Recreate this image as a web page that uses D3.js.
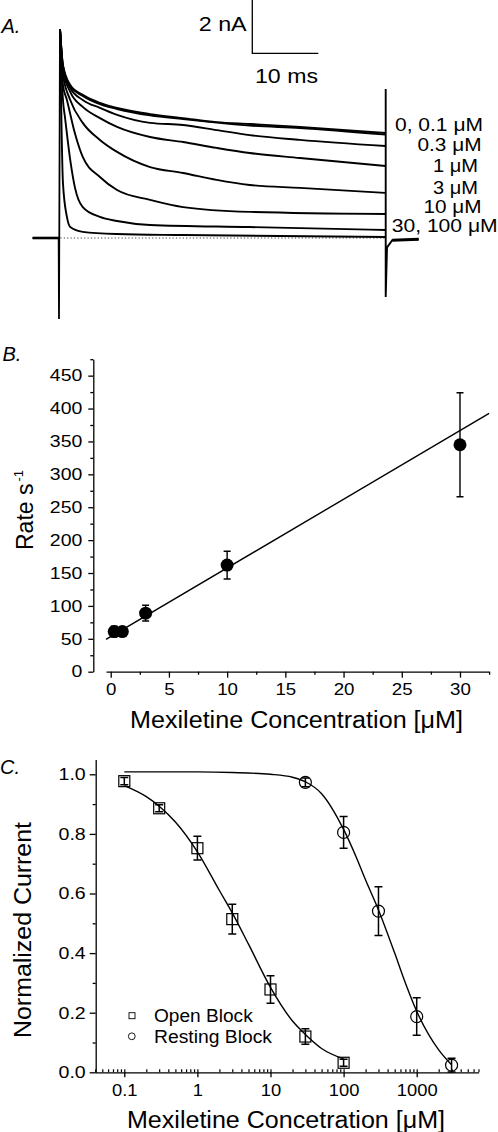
<!DOCTYPE html>
<html><head><meta charset="utf-8">
<script src="https://cdn.jsdelivr.net/npm/d3@7"></script>
<style>body{margin:0;background:#fff} svg{display:block}</style>
</head><body><svg id="c" width="498" height="1132"></svg>
<script>
// ---------------- DATA ----------------
// Panel A: current traces (time ms after step, current nA)
const tA_0   = [0.15, 0.6, 1.7, 3.6, 6.2, 8.8, 13.8, 18.8, 23.9, 28.9, 36.5, 49.5];
const iA_0   = [7.84, 6.49, 5.74, 5.37, 5.07, 4.88, 4.65, 4.50, 4.35, 4.28, 4.17, 3.94];
const tA_01  = [0.15, 0.6, 1.7, 3.6, 6.2, 8.8, 13.8, 18.8, 23.9, 28.9, 36.5, 49.5];
const iA_01  = [7.84, 6.45, 5.70, 5.33, 5.02, 4.84, 4.60, 4.46, 4.33, 4.22, 4.13, 3.88];
const tA_03  = [0.15, 0.6, 1.7, 3.6, 6.2, 8.8, 13.8, 18.8, 23.9, 28.9, 36.5, 49.5];
const iA_03  = [7.84, 6.42, 5.63, 5.18, 4.88, 4.62, 4.32, 4.24, 4.05, 3.86, 3.68, 3.45];
const tA_1   = [0.15, 0.6, 1.7, 3.6, 6.2, 8.8, 13.8, 18.8, 23.9, 28.9, 36.5, 49.5];
const iA_1   = [7.84, 6.30, 5.48, 4.92, 4.50, 4.17, 3.79, 3.60, 3.38, 3.19, 3.00, 2.70];
const tA_3   = [0.15, 0.6, 1.7, 3.6, 6.2, 8.8, 13.8, 18.8, 23.9, 28.9, 36.5, 49.5];
const iA_3   = [7.84, 6.12, 5.18, 4.32, 3.68, 3.23, 2.66, 2.44, 2.18, 1.99, 1.88, 1.69];
const tA_10  = [0.15, 0.6, 1.2, 2.4, 3.6, 6.2, 8.8, 13.8, 18.8, 28.9, 49.5];
const iA_10  = [7.84, 5.74, 5.18, 3.94, 3.04, 2.29, 1.80, 1.43, 1.16, 0.98, 0.90];
const tA_30  = [0.15, 0.6, 0.9, 1.7, 2.4, 3.6, 6.2, 8.8, 13.8, 28.9, 49.5];
const iA_30  = [7.84, 5.18, 4.54, 2.93, 1.91, 1.16, 0.79, 0.64, 0.49, 0.41, 0.30];
const tA_100 = [0.15, 0.6, 1.2, 1.7, 3.6, 8.8, 18.8, 49.5];
const iA_100 = [7.84, 2.06, 0.79, 0.41, 0.23, 0.15, 0.11, 0.04];
const stepT = [-4, -0.05, 0.0, 0.15];
const stepI = [0, 0, -3.04, 7.84];
const tailT = [49.5, 49.5, 49.7, 50.5, 54.5];
const tailI = [5.59, -2.21, -0.35, -0.08, -0.05];
const concLabels = ["0, 0.1 \u03BCM", "0.3 \u03BCM", "1 \u03BCM", "3 \u03BCM", "10 \u03BCM", "30, 100 \u03BCM"];
const scaleBarMs = 10, scaleBarNA = 2;

// Panel B: rate vs concentration
const rateConc = [0.3, 1, 3, 10, 30];
const rateVal  = [61, 61, 89, 162, 345];
const rateErr  = [8, 5, 12, 21, 79];
const rateFitX = [-0.4, 32.5];
const rateFitY = [49.1, 392.6];
const rateYTicks = [0, 50, 100, 150, 200, 250, 300, 350, 400, 450];
const rateXTicks = [0, 5, 10, 15, 20, 25, 30];

// Panel C: normalized current
const openConc = [0.1, 0.3, 1, 3, 10, 30, 100];
const openVal  = [0.977, 0.886, 0.752, 0.514, 0.278, 0.12, 0.032];
const openErr  = [0.012, 0.012, 0.04, 0.05, 0.046, 0.026, 0.012];
const restConc = [30, 100, 300, 1000, 3000];
const restVal  = [0.973, 0.805, 0.541, 0.187, 0.024];
const restErr  = [0.015, 0.053, 0.082, 0.063, 0.023];
const openFitX = [0.1, 0.2, 0.3, 0.5, 1, 2, 3, 5, 10, 20, 30, 50, 100];
const openFitY = [0.962, 0.925, 0.893, 0.84, 0.74, 0.61, 0.535, 0.43, 0.285, 0.172, 0.127, 0.08, 0.045];
const restFitX = [0.1, 1, 3, 10, 20, 30, 50, 100, 150, 200, 300, 500, 700, 1000, 2000, 3000];
const restFitY = [1.008, 1.008, 1.006, 1.0, 0.99, 0.975, 0.935, 0.815, 0.72, 0.645, 0.545, 0.40, 0.30, 0.205, 0.075, 0.025];
const normYTicks = [0, 0.2, 0.4, 0.6, 0.8, 1.0];
const normXTicks = [0.1, 1, 10, 100, 1000];
const legendNames = ["Open Block", "Resting Block"];

// ---------------- DRAW ----------------
const FONT = '"Liberation Sans", Arial, Helvetica, sans-serif';
const svg = d3.select("#c");

function txt(g, str, x, y, o = {}) {
  const t = g.append("text").attr("x", x).attr("y", y)
    .attr("font-family", FONT).attr("font-size", o.size || 16)
    .attr("text-anchor", o.anchor || "start").attr("fill", "#000").text(str);
  if (o.italic) t.attr("font-style", "italic");
  if (o.len) t.attr("textLength", o.len).attr("lengthAdjust", "spacingAndGlyphs");
  return t;
}
function stretchTicks(g, f, size) {
  g.attr("font-family", FONT).attr("font-size", size);
  g.selectAll(".tick text").attr("fill", "#000").each(function () {
    const L = this.getComputedTextLength();
    if (L > 0) d3.select(this).attr("textLength", L * f).attr("lengthAdjust", "spacingAndGlyphs");
  });
  g.selectAll("line,path").attr("stroke", "#000").attr("stroke-width", 1.3);
}

// ===== Panel A =====
const gA = svg.append("g");
const xA = d3.scaleLinear().domain([-4, 55]).range([32.6, 422]);
const yA = d3.scaleLinear().domain([-3.5, 8]).range([238 + 3.5 * 26.65, 238 - 8 * 26.65]);
const zip = (a, b) => a.map((v, i) => [v, b[i]]);
const lineA = d3.line().x(d => xA(d[0])).y(d => yA(d[1])).curve(d3.curveMonotoneX);
const lineLin = d3.line().x(d => xA(d[0])).y(d => yA(d[1]));

// dotted zero line
gA.append("line").attr("x1", xA(0.2)).attr("x2", xA(49.5)).attr("y1", yA(0)).attr("y2", yA(0))
  .attr("stroke", "#444").attr("stroke-width", 1).attr("stroke-dasharray", "1.2,2.2");

const traces = [[tA_0, iA_0], [tA_01, iA_01], [tA_03, iA_03], [tA_1, iA_1], [tA_3, iA_3], [tA_10, iA_10], [tA_30, iA_30], [tA_100, iA_100]];
traces.forEach(([t, i]) => {
  gA.append("path").attr("d", lineA(zip(t, i))).attr("fill", "none")
    .attr("stroke", "#000").attr("stroke-width", 1.9).attr("stroke-linejoin", "round");
});
gA.append("path").attr("d", lineLin(zip(stepT, stepI))).attr("fill", "none").attr("stroke", "#000").attr("stroke-width", 1.8);
gA.append("path").attr("d", lineLin(zip(stepT.slice(0, 2), stepI.slice(0, 2)))).attr("fill", "none").attr("stroke", "#000").attr("stroke-width", 2.6);
gA.append("path").attr("d", lineLin(zip(tailT, tailI))).attr("fill", "none").attr("stroke", "#000").attr("stroke-width", 1.9);
gA.append("path").attr("d", lineLin(zip(tailT.slice(3), tailI.slice(3)))).attr("fill", "none").attr("stroke", "#000").attr("stroke-width", 3);

// scale bar
const sbx = 252.3, sby = 53.3;
const sbW = xA(scaleBarMs) - xA(0), sbH = yA(0) - yA(scaleBarNA);
gA.append("path").attr("d", `M${sbx},${sby - sbH}V${sby}H${sbx + sbW}`).attr("fill", "none").attr("stroke", "#000").attr("stroke-width", 1.3);
txt(gA, scaleBarNA + " nA", 246.7, 30.5, { size: 21, anchor: "end", len: 48 });
txt(gA, scaleBarMs + " ms", 255, 82.5, { size: 21, len: 63 });
txt(gA, "A.", 1.5, 33.3, { size: 20, italic: true });

// concentration labels (layout only)
const labRight = [483, 481.5, 478, 478, 481.5, 497.7];
const labBase = [130.7, 151, 171.7, 194, 212.7, 231.5];
const labLen = [88, 64, 45, 45, 58, 106];
concLabels.forEach((s, k) => txt(gA, s, labRight[k], labBase[k], { size: 18, anchor: "end", len: labLen[k] }));

// ===== Panel B =====
const gB = svg.append("g");
const xB = d3.scaleLinear().domain([-0.4, 32.5]).range([106.04, 489.1]);
const yB = d3.scaleLinear().domain([0, 475]).range([671.7, 359.2]);
const yBaxis = gB.append("g").attr("transform", "translate(93.3,0)")
  .call(d3.axisLeft(yB).tickValues(rateYTicks).tickSize(5).tickPadding(6).tickSizeOuter(0));
stretchTicks(yBaxis, 1.18, 16.5);
const yBmin = gB.append("g").attr("transform", "translate(93.3,0)")
  .call(d3.axisLeft(yB).tickValues(d3.range(25, 476, 50)).tickSize(3).tickFormat("").tickSizeOuter(0));
yBmin.select(".domain").remove(); yBmin.selectAll("line").attr("stroke", "#000").attr("stroke-width", 1.3);
const xBaxis = gB.append("g").attr("transform", "translate(0,671.7)")
  .call(d3.axisBottom(xB).tickValues(rateXTicks).tickSize(6).tickPadding(5).tickSizeOuter(0));
stretchTicks(xBaxis, 1.1, 17);
const xBmin = gB.append("g").attr("transform", "translate(0,671.7)")
  .call(d3.axisBottom(xB).tickValues(d3.range(2.5, 33, 5)).tickSize(3).tickFormat("").tickSizeOuter(0));
xBmin.select(".domain").remove(); xBmin.selectAll("line").attr("stroke", "#000").attr("stroke-width", 1.3);

gB.append("path").attr("d", d3.line().x(d => xB(d[0])).y(d => yB(d[1]))(zip(rateFitX, rateFitY)))
  .attr("fill", "none").attr("stroke", "#000").attr("stroke-width", 1.4);
rateConc.forEach((c, k) => {
  const x = xB(c), y1 = yB(rateVal[k] + rateErr[k]), y2 = yB(rateVal[k] - rateErr[k]);
  gB.append("path").attr("d", `M${x},${y1}V${y2}M${x - 3.5},${y1}H${x + 3.5}M${x - 3.5},${y2}H${x + 3.5}`)
    .attr("stroke", "#000").attr("stroke-width", 1.4).attr("fill", "none");
  gB.append("circle").attr("cx", x).attr("cy", yB(rateVal[k])).attr("r", 6.5).attr("fill", "#000");
});
txt(gB, "B.", 2.5, 361, { size: 20, italic: true });
txt(gB, "Mexiletine Concentration [\u03BCM]", 130, 728, { size: 23.5, len: 333 });
const rt = gB.append("text").attr("transform", "translate(33,550) rotate(-90)")
  .attr("font-family", FONT).attr("font-size", 23).attr("fill", "#000");
rt.append("tspan").text("Rate s");
rt.append("tspan").attr("dy", -10).attr("dx", 2).attr("font-size", 13).text("-1");

// ===== Panel C =====
const gC = svg.append("g");
const xC = d3.scaleLog().domain([0.04, 7000]).range([124.3 - Math.log10(0.1 / 0.04) * 73.1, 416.7 + Math.log10(7) * 73.1]);
const yC = d3.scaleLinear().domain([0, 1.05]).range([1072.3, 759.4]);
const yCaxis = gC.append("g").attr("transform", "translate(95.7,0)")
  .call(d3.axisLeft(yC).tickValues(normYTicks).tickFormat(d3.format(".1f")).tickSize(6).tickPadding(4).tickSizeOuter(0));
stretchTicks(yCaxis, 1.15, 17);
const yCmin = gC.append("g").attr("transform", "translate(95.7,0)")
  .call(d3.axisLeft(yC).tickValues(d3.range(0.1, 1.05, 0.2)).tickSize(3).tickFormat("").tickSizeOuter(0));
yCmin.select(".domain").remove(); yCmin.selectAll("line").attr("stroke", "#000").attr("stroke-width", 1.3);
const xCaxis = gC.append("g").attr("transform", "translate(0,1072.3)")
  .call(d3.axisBottom(xC).tickValues(normXTicks).tickFormat(d => String(d)).tickSize(5).tickPadding(7).tickSizeOuter(0));
stretchTicks(xCaxis, 1.08, 17);
const minorC = xC.ticks().filter(v => Math.abs(Math.log10(v) - Math.round(Math.log10(v))) > 1e-6);
const xCmin = gC.append("g").attr("transform", "translate(0,1072.3)")
  .call(d3.axisBottom(xC).tickValues(minorC.concat(normXTicks)).tickSize(-3).tickFormat("").tickSizeOuter(0));
xCmin.select(".domain").remove(); xCmin.selectAll("line").attr("stroke", "#000").attr("stroke-width", 1.2);

const lineC = d3.line().x(d => xC(d[0])).y(d => yC(d[1])).curve(d3.curveMonotoneX);
gC.append("path").attr("d", lineC(zip(openFitX, openFitY))).attr("fill", "none").attr("stroke", "#000").attr("stroke-width", 1.4);
gC.append("path").attr("d", lineC(zip(restFitX, restFitY))).attr("fill", "none").attr("stroke", "#000").attr("stroke-width", 1.4);

function errBars(conc, val, err) {
  conc.forEach((c, k) => {
    const x = xC(c), y1 = yC(val[k] + err[k]), y2 = yC(val[k] - err[k]);
    gC.append("path").attr("d", `M${x},${y1}V${y2}M${x - 4},${y1}H${x + 4}M${x - 4},${y2}H${x + 4}`)
      .attr("stroke", "#000").attr("stroke-width", 1.5).attr("fill", "none");
  });
}
errBars(openConc, openVal, openErr);
errBars(restConc, restVal, restErr);
openConc.forEach((c, k) => {
  gC.append("rect").attr("x", xC(c) - 5.5).attr("y", yC(openVal[k]) - 5.5).attr("width", 11).attr("height", 11)
    .attr("fill", "none").attr("stroke", "#000").attr("stroke-width", 1.2);
});
restConc.forEach((c, k) => {
  gC.append("circle").attr("cx", xC(c)).attr("cy", yC(restVal[k])).attr("r", 6)
    .attr("fill", "none").attr("stroke", "#000").attr("stroke-width", 1.2);
});
// legend
gC.append("rect").attr("x", 129).attr("y", 1012.7).attr("width", 6).attr("height", 6).attr("fill", "none").attr("stroke", "#000").attr("stroke-width", 0.9);
gC.append("circle").attr("cx", 131.8).attr("cy", 1036.3).attr("r", 3.4).attr("fill", "none").attr("stroke", "#000").attr("stroke-width", 0.9);
txt(gC, legendNames[0], 154, 1021.7, { size: 18, len: 98.7 });
txt(gC, legendNames[1], 154, 1042.7, { size: 18, len: 118 });

txt(gC, "C.", 0, 774.3, { size: 20, italic: true });
txt(gC, "Mexiletine Concetration [\u03BCM]", 127, 1128.3, { size: 23.5, len: 318 });
gC.append("text").attr("transform", "translate(31,1038) rotate(-90)")
  .attr("font-family", FONT).attr("font-size", 23.5).attr("fill", "#000")
  .attr("textLength", 216).attr("lengthAdjust", "spacingAndGlyphs").text("Normalized Current");
</script></body></html>
